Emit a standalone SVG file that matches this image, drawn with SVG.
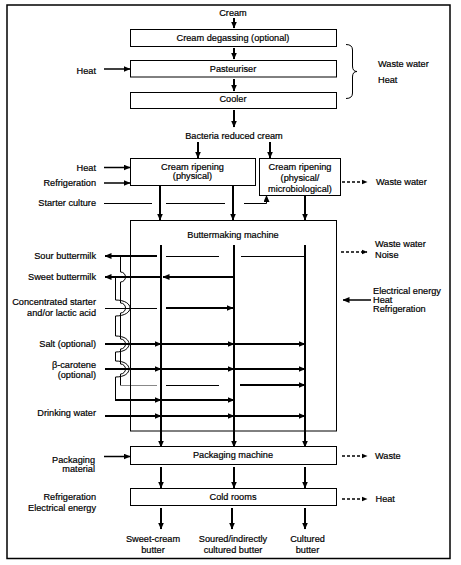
<svg xmlns="http://www.w3.org/2000/svg" width="461" height="565" viewBox="0 0 461 565">
<style>
text{font-family:"Liberation Sans",Arial,sans-serif;font-size:9.2px;fill:#000;stroke:#000;stroke-width:0.2}
.m{text-anchor:middle}
.e{text-anchor:end}
.box{fill:#fff;stroke:#000;stroke-width:1}
.a{stroke:#000;stroke-width:2;fill:none;marker-end:url(#ah)}
.a15{stroke:#000;stroke-width:1.5;fill:none;marker-end:url(#ah)}
.d{stroke:#000;stroke-width:1.5;stroke-dasharray:3,2;fill:none;marker-end:url(#ahs)}
.t{stroke:#000;stroke-width:1;fill:none}
.g{stroke:#888;stroke-width:1;fill:none}
</style>
<defs>
<marker id="ah" markerUnits="userSpaceOnUse" markerWidth="7" markerHeight="6" refX="6.5" refY="3" orient="auto"><path d="M0,0 L7,3 L0,6 z" fill="#000"/></marker>
<marker id="ahs" markerUnits="userSpaceOnUse" markerWidth="6" markerHeight="6" refX="5.5" refY="3" orient="auto"><path d="M0,0.5 L6,3 L0,5.5 z" fill="#000"/></marker>
</defs>
<rect x="7" y="5" width="443" height="553.5" fill="#fff" stroke="#000" stroke-width="1.5"/>

<g id="connectors">
<line class="a" x1="234" y1="18" x2="234" y2="28"/>
<line class="a" x1="234" y1="48" x2="234" y2="59"/>
<line class="a" x1="234" y1="79" x2="234" y2="91"/>
<line class="a" x1="234" y1="110" x2="234" y2="127"/>
<line class="a15" x1="104" y1="69" x2="130" y2="69"/>
<path class="t" d="M346,44.5 Q352.5,44.5 352.5,50 L352.5,66 Q352.5,71.5 357,71.5 Q352.5,71.5 352.5,77 L352.5,93 Q352.5,98.5 346,98.5"/>
<line class="a" x1="198" y1="142" x2="198" y2="158"/>
<line class="a" x1="270" y1="142" x2="270" y2="158"/>
<line class="a15" x1="104" y1="167.5" x2="130" y2="167.5"/>
<line class="a15" x1="104" y1="183" x2="130" y2="183"/>
<line class="t" x1="104" y1="203.5" x2="152" y2="203.5"/>
<line class="t" x1="166" y1="203.5" x2="225" y2="203.5"/>
<path class="t" d="M244,203.5 H266.5 V200"/>
<line class="a15" x1="266.5" y1="203" x2="266.5" y2="195.5" style="stroke-width:1"/>
<line class="a" x1="160" y1="185" x2="160" y2="220"/>
<line class="a" x1="233" y1="185" x2="233" y2="220"/>
<line class="a" x1="305" y1="195" x2="305" y2="220"/>
<line class="d" x1="342" y1="182" x2="367" y2="182"/>

<line class="a" x1="161" y1="245" x2="161" y2="447"/>
<line class="a" x1="234" y1="245" x2="234" y2="447"/>
<line class="a" x1="305" y1="245" x2="305" y2="447"/>

<line class="a" x1="157" y1="256" x2="105" y2="256"/>
<line class="t" x1="166" y1="256.5" x2="219" y2="256.5"/>
<line class="t" x1="241" y1="256.5" x2="305" y2="256.5"/>

<line class="a" x1="234" y1="277" x2="163" y2="277"/>
<line class="a" x1="160" y1="277" x2="105" y2="277"/>

<line class="t" x1="105" y1="308.5" x2="157" y2="308.5"/>
<line class="a" x1="166" y1="308" x2="233" y2="308"/>

<line class="a" x1="105" y1="344" x2="161" y2="344"/>
<line class="a" x1="161" y1="344" x2="234" y2="344"/>
<line class="a" x1="234" y1="344" x2="305" y2="344"/>

<line class="a" x1="105" y1="369" x2="161" y2="369"/>
<line class="a" x1="161" y1="369" x2="234" y2="369"/>
<line class="a" x1="234" y1="369" x2="305" y2="369"/>

<path class="t" d="M120.5,256 V272 A5,5 0 0 1 120.5,282 V303 A5,5 0 0 1 120.5,313 V339 A5,5 0 0 1 120.5,349 V364 A5,5 0 0 1 120.5,374 V385.5"/>
<line class="g" x1="120.5" y1="385.5" x2="157" y2="385.5"/>
<line class="t" x1="166" y1="385.5" x2="219" y2="385.5"/>
<line class="a" x1="240" y1="385" x2="305" y2="385"/>

<path class="t" d="M115.5,277 V300 C125,300 130,304 130,308 C130,312 125,316 115.5,316 V336 C125,336 129,340 129,344 C129,348 125,352 115.5,352 V361 C125,361 129,365 129,369 C129,373 125,377 115.5,377 V400"/>
<line class="a" x1="115" y1="400" x2="161" y2="400"/>
<line class="a" x1="161" y1="400" x2="234" y2="400"/>

<line class="a" x1="105" y1="416" x2="161" y2="416"/>
<line class="a" x1="161" y1="416" x2="234" y2="416"/>
<line class="a" x1="234" y1="416" x2="305" y2="416"/>

<line class="d" x1="341" y1="252" x2="367" y2="252"/>
<line class="a15" x1="371" y1="300" x2="343" y2="300"/>

<line class="a15" x1="104" y1="456.5" x2="130" y2="456.5"/>
<line class="d" x1="342" y1="456" x2="367" y2="456"/>
<line class="a" x1="161" y1="467" x2="161" y2="488"/>
<line class="a" x1="234" y1="467" x2="234" y2="488"/>
<line class="a" x1="305" y1="467" x2="305" y2="488"/>
<line class="d" x1="342" y1="499" x2="367" y2="499"/>
<line class="a" x1="161" y1="508" x2="161" y2="529"/>
<line class="a" x1="232" y1="508" x2="232" y2="529"/>
<line class="a" x1="305" y1="508" x2="305" y2="529"/>
</g>

<g id="degassing"><rect class="box" x="130.5" y="29.5" width="206" height="17"/><text class="m" x="233" y="41">Cream degassing (optional)</text></g>
<g id="pasteuriser"><rect class="box" x="130.5" y="60.5" width="206" height="16.5"/><text class="m" x="233" y="72">Pasteuriser</text></g>
<g id="cooler"><rect class="box" x="130.5" y="92.5" width="206" height="16"/><text class="m" x="233" y="102">Cooler</text></g>
<g id="ripening-physical"><rect class="box" x="130.5" y="158.5" width="125" height="27"/><text class="m" x="192.5" y="170">Cream ripening</text><text class="m" x="192.5" y="179">(physical)</text></g>
<g id="ripening-micro"><rect class="box" x="259.5" y="158.5" width="81" height="37"/><text class="m" x="300" y="170">Cream ripening</text><text class="m" x="300" y="180.5">(physical/</text><text class="m" x="300" y="191.5">microbiological)</text></g>
<g id="buttermaking"><rect class="box" x="130.5" y="220.5" width="206" height="210.5" style="fill:none"/><text class="m" x="233" y="238.3">Buttermaking machine</text></g>
<g id="packaging"><rect class="box" x="130.5" y="446.5" width="206" height="18"/><text class="m" x="233" y="458.3">Packaging machine</text></g>
<g id="coldrooms"><rect class="box" x="130.5" y="488.5" width="206" height="17"/><text class="m" x="233" y="500">Cold rooms</text></g>

<g id="labels">
<text class="m" x="233" y="15.5">Cream</text>
<text class="e" x="96" y="74">Heat</text>
<text x="378" y="66.5">Waste water</text>
<text x="378" y="83">Heat</text>
<text class="m" x="234" y="139">Bacteria reduced cream</text>
<text class="e" x="96" y="170.5">Heat</text>
<text class="e" x="96" y="185.5">Refrigeration</text>
<text class="e" x="96" y="206">Starter culture</text>
<text x="376" y="185">Waste water</text>
<text class="e" x="96" y="259">Sour buttermilk</text>
<text class="e" x="96" y="280">Sweet buttermilk</text>
<text class="e" x="96" y="305">Concentrated starter</text>
<text class="e" x="96" y="315.6">and/or lactic acid</text>
<text class="e" x="96" y="347">Salt (optional)</text>
<text class="e" x="96" y="368">β-carotene</text>
<text class="e" x="96" y="378.3">(optional)</text>
<text class="e" x="96" y="416.3">Drinking water</text>
<text x="375" y="247.3">Waste water</text>
<text x="375" y="258.3">Noise</text>
<text x="373" y="294.3">Electrical energy</text>
<text x="373" y="303">Heat</text>
<text x="373" y="311.5">Refrigeration</text>
<text class="e" x="95" y="462.6">Packaging</text>
<text class="e" x="95" y="472.3">material</text>
<text x="375" y="459">Waste</text>
<text class="e" x="96" y="500">Refrigeration</text>
<text class="e" x="96" y="510.6">Electrical energy</text>
<text x="375.5" y="502.3">Heat</text>
<text class="m" x="153" y="542.3">Sweet-cream</text>
<text class="m" x="153" y="552.6">butter</text>
<text class="m" x="233" y="542.3">Soured/indirectly</text>
<text class="m" x="233" y="552.6">cultured butter</text>
<text class="m" x="307.5" y="542.3">Cultured</text>
<text class="m" x="307.5" y="552.6">butter</text>
</g>
</svg>
